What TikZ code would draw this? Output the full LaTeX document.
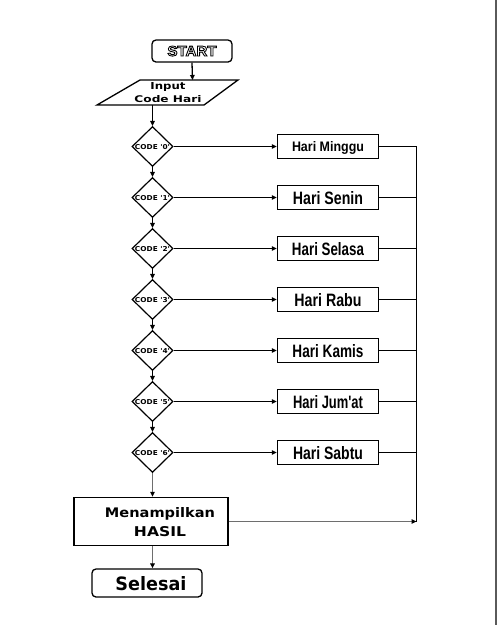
\documentclass[tikz,border=0pt]{standalone}
\usepackage{fontspec}
\usepackage{graphicx}
\setmainfont{Liberation Sans}
\newfontfamily\heavyfont{DejaVu Sans}
\usetikzlibrary{arrows.meta,shapes.geometric}
\definecolor{linegray}{HTML}{6E6E6E}
\definecolor{edgegray}{HTML}{5A5A5A}
\newcommand{\fitbox}[3]{\resizebox{#1pt}{#2pt}{#3}}
\newcommand{\hollow}[1]{\special{pdf:literal direct 1 Tr 0.6 w}#1\special{pdf:literal direct 0 Tr 1 w}}
\newcommand{\codelab}[1]{\fitbox{35}{5}{\heavyfont\bfseries CODE \textquotesingle#1\textquotesingle}}
\begin{document}
\begin{tikzpicture}[x=1pt,y=-1pt,
  boxst/.style={draw, line width=1.4pt, rectangle, minimum width=101pt, minimum height=24pt, inner sep=0pt, text depth=0pt},
  dia/.style={draw, diamond, line width=1.2pt, minimum width=41pt, minimum height=37pt, inner sep=0pt, text depth=0pt},
  termst/.style={draw, line width=1.3pt, rectangle, rounded corners=4pt, inner sep=0pt, text depth=0pt},
  arr/.style={line width=1.3pt, -{Triangle[length=5pt,width=4.5pt]}},
  plain/.style={line width=1.4pt},
  grayarr/.style={draw=linegray, line width=1.8pt, -{Triangle[length=5pt,width=4.5pt,color=black]}}
]
\fill[white] (0,0) rectangle (497,625);
\useasboundingbox (0,0) rectangle (497,625);
\draw[edgegray, line width=1.5pt] (496.2,0) -- (496.2,625);

% start
\node[termst, minimum width=80pt, minimum height=22pt] (start) at (192,51)
  {\fitbox{49}{10}{\bfseries\hollow{START}}};

% input parallelogram
\coordinate (p1) at (140,80);
\coordinate (p2) at (238,80);
\coordinate (p3) at (204,105);
\coordinate (p4) at (97,105);
\draw[line width=1.3pt, line join=miter] (p1) -- (p2) -- (p3) -- (p4) -- cycle;
\coordinate (inpt) at (192.5,80);
\coordinate (inpb) at (152.5,105);
\node[inner sep=0pt, align=center, text depth=0pt, font=\fontsize{10}{13}\selectfont] (inp) at (168,92.5)
  {\fitbox{35}{7}{\heavyfont\bfseries Input}\\\fitbox{67}{7}{\heavyfont\bfseries Code Hari}};

% diamonds and boxes
\foreach \k/\lab/\w/\h/\txt in {0/0/72/10/Hari Minggu,1/1/70/13/Hari Senin,2/2/72/13/Hari Selasa,3/3/67/13/Hari Rabu,4/4/71/13/Hari Kamis,5/5/70/13/{Hari Jum\textquotesingle at},6/6/70/13/Hari Sabtu}{
  \node[dia] (d\k) at (152.5,146.5+51*\k) {\codelab{\lab}};
  \node[boxst] (b\k) at (328,146.5+51*\k) {\fitbox{\w}{\h}{\bfseries \txt}};
}
\coordinate (vt) at (416.5,146.5);

% result and end
\node[draw, line width=1.4pt, rectangle, minimum width=154pt, minimum height=48pt, inner sep=0pt, align=center,
      font=\fontsize{14}{19}\selectfont, text depth=0pt] (hasil) at (151,521.5)
  {\hspace*{18pt}\fitbox{110}{10}{\heavyfont\bfseries Menampilkan}\\\hspace*{18pt}\fitbox{52}{10}{\heavyfont\bfseries HASIL}};
\node[termst, minimum width=110pt, minimum height=28pt] (sel) at (147,583)
  {\hspace*{8pt}\fitbox{71}{14}{\heavyfont\bfseries Selesai}};

% connectors
\draw[arr] (start.south) -- (inpt);
\draw[arr] (inpb) -- (d0.north);
\foreach \k [evaluate=\k as \n using int(\k+1)] in {0,...,5}{
  \draw[arr] (d\k.south) -- (d\n.north);
}
\foreach \k in {0,...,6}{
  \draw[arr] (d\k.east) -- (b\k.west);
  \draw[plain] (b\k.east) -- (b\k.east -| vt);
}
\draw[plain] (vt) -- (hasil.east -| vt);
\draw[grayarr] (d6.south) -- (d6.south |- hasil.north);
\draw[grayarr] (d6.south |- hasil.south) -- (d6.south |- sel.north);
\draw[grayarr] (hasil.east) -- (hasil.east -| vt);
\end{tikzpicture}
\end{document}
